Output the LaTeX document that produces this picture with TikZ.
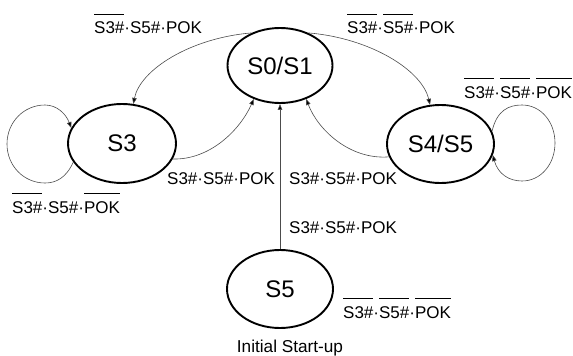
\documentclass[tikz,border=0pt]{standalone}
\usepackage{fontspec}
\setmainfont{Liberation Sans}
\usetikzlibrary{shapes.geometric,arrows.meta}
\newsavebox\ovbox
\newcommand\ovl[1]{\sbox\ovbox{#1}\rlap{\raisebox{\dimexpr\ht\ovbox+7pt\relax}{\rule{\wd\ovbox}{1.2pt}}}\usebox\ovbox}
\tikzset{
  state/.style={ellipse,draw,line width=1.9pt,inner sep=0pt,font=\fontsize{24}{28}\selectfont},
  lab/.style={inner sep=0pt,anchor=base west,font=\fontsize{17}{20}\selectfont},
  conn/.style={draw=black!70,line width=0.6pt,-{Triangle[length=6pt,width=4.5pt,fill=black]}},
}
\begin{document}
\begin{tikzpicture}[x=1pt,y=-1pt]
\path[use as bounding box] (0,0) rectangle (573,356);
% states
\node[state,minimum width=105pt,minimum height=75pt] (s01) at (280,65.5) {S0/S1};
\node[state,minimum width=108pt,minimum height=79pt] (s3) at (122,143.5) {S3};
\node[state,minimum width=107pt,minimum height=78pt] (s45) at (440.5,144) {S4/S5};
\node[state,minimum width=106pt,minimum height=78pt] (s5) at (280,289) {S5};
% connectors
\draw[conn] (s01.131) .. controls (190,38) and (140,70) .. (s3.74);
\draw[conn] (s01.49) .. controls (370,38) and (422,70) .. (s45.105);
\draw[conn] (s3.343) .. controls (210,160) and (240,130) .. (s01.232);
\draw[conn] (s45.194) .. controls (350,160) and (318,130) .. (s01.308);
\draw[conn] (s5.north) -- (s01.south);
\draw[conn] (s3.201) .. controls (66,178) and (56,183) .. (45,183)
  .. controls (24,183) and (7,166) .. (7,144)
  .. controls (7,122) and (24,105) .. (45,105)
  .. controls (57,105) and (66,114) .. (s3.163);
\draw[conn] (s45.14) .. controls (497,110) and (509,105) .. (522,105)
  .. controls (541,105) and (555,122) .. (555,143)
  .. controls (555,164) and (541,181) .. (522,181)
  .. controls (509,181) and (498,174) .. (s45.348);
% labels
\node[lab] (l1) at (94,34) {\ovl{S3\#}·S5\#·POK};
\node[lab] (l2) at (347,34) {\ovl{S3\#}·\ovl{S5\#}·POK};
\node[lab] (l3) at (464,98) {\ovl{S3\#}·\ovl{S5\#}·\ovl{POK}};
\node[lab] (l4) at (12,213) {\ovl{S3\#}·S5\#·\ovl{POK}};
\node[lab] (l5) at (167,184) {S3\#·S5\#·POK};
\node[lab] (l6) at (289,184) {S3\#·S5\#·POK};
\node[lab] (l7) at (289,233) {S3\#·S5\#·POK};
\node[lab] (l8) at (343,318) {\ovl{S3\#}·\ovl{S5\#}·\ovl{POK}};
\node[inner sep=0pt,anchor=base,font=\fontsize{17.2}{20}\selectfont] (init) at (290,352) {Initial Start-up};
\end{tikzpicture}
\end{document}
